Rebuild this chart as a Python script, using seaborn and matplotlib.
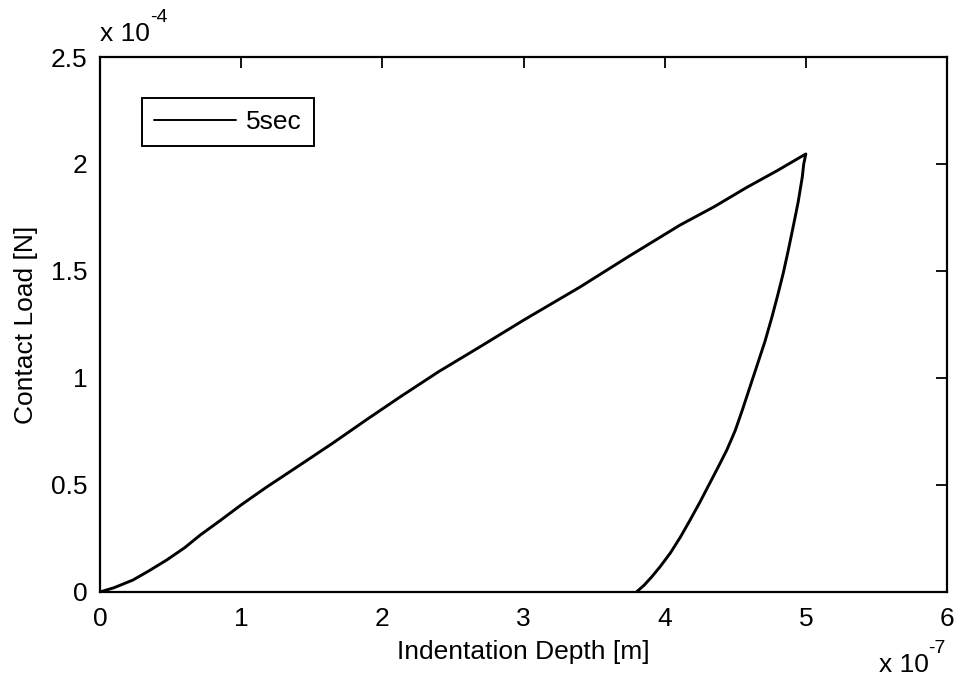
import matplotlib
matplotlib.use("Agg")
import matplotlib.pyplot as plt
from matplotlib.ticker import FuncFormatter, MultipleLocator
import pandas as pd
import seaborn as sns

# Indentation test, 5 s hold: loading branch then unloading branch
load_depth_m = [0.0, 0.1e-7, 0.234e-7, 0.35e-7, 0.474e-7, 0.6e-7, 0.71e-7, 0.85e-7,
                1.0e-7, 1.18e-7, 1.416e-7, 1.65e-7, 1.89e-7, 2.125e-7, 2.4e-7, 2.69e-7,
                3.0e-7, 3.4e-7, 3.75e-7, 4.11e-7, 4.35e-7, 4.58e-7, 4.8e-7, 5.0e-7]
load_force_n = [0.0, 0.02e-4, 0.056e-4, 0.10e-4, 0.15e-4, 0.207e-4, 0.266e-4, 0.333e-4,
                0.407e-4, 0.49e-4, 0.593e-4, 0.696e-4, 0.806e-4, 0.911e-4, 1.03e-4, 1.145e-4,
                1.27e-4, 1.425e-4, 1.57e-4, 1.715e-4, 1.80e-4, 1.89e-4, 1.97e-4, 2.047e-4]
unload_depth_m = [4.985e-7, 4.975e-7, 4.945e-7, 4.91e-7, 4.875e-7, 4.84e-7, 4.80e-7,
                  4.76e-7, 4.71e-7, 4.65e-7, 4.60e-7, 4.55e-7, 4.50e-7, 4.44e-7, 4.38e-7,
                  4.32e-7, 4.25e-7, 4.18e-7, 4.11e-7, 4.04e-7, 3.97e-7, 3.91e-7, 3.855e-7,
                  3.80e-7]
unload_force_n = [2.00e-4, 1.94e-4, 1.82e-4, 1.706e-4, 1.595e-4, 1.49e-4, 1.385e-4,
                  1.285e-4, 1.17e-4, 1.05e-4, 0.95e-4, 0.85e-4, 0.755e-4, 0.663e-4, 0.585e-4,
                  0.509e-4, 0.42e-4, 0.336e-4, 0.255e-4, 0.182e-4, 0.12e-4, 0.072e-4, 0.032e-4,
                  0.0]
series_label = "5sec"

x_scale = 1e-7
y_scale = 1e-4

df = pd.DataFrame({
    "depth": load_depth_m + unload_depth_m,
    "force": load_force_n + unload_force_n,
    "run": series_label,
})

sns.set_style("white")
plt.rcParams["font.family"] = ["Liberation Sans", "DejaVu Sans"]
plt.rcParams["text.color"] = "black"
plt.rcParams["axes.unicode_minus"] = False

fig = plt.figure(figsize=(9.56, 6.77), dpi=100)
ax = fig.add_axes([0.1046, 0.1256, 0.886, 0.7902])

sns.lineplot(data=df, x="depth", y="force", hue="run", palette=["black"],
             sort=False, estimator=None, linewidth=2.1, ax=ax)

ax.set_xlim(0, 6 * x_scale)
ax.set_ylim(0, 2.5 * y_scale)
ax.xaxis.set_major_locator(MultipleLocator(1 * x_scale))
ax.yaxis.set_major_locator(MultipleLocator(0.5 * y_scale))
ax.xaxis.set_major_formatter(FuncFormatter(lambda v, p: f"{v / x_scale:g}"))
ax.yaxis.set_major_formatter(FuncFormatter(lambda v, p: f"{v / y_scale:g}"))

fs = 19
ax.tick_params(axis="both", which="major", direction="in", length=8, width=1.3,
               top=True, right=True, labelsize=fs, color="black", labelcolor="black")
ax.tick_params(axis="x", pad=11)
ax.tick_params(axis="y", pad=9)
for s in ax.spines.values():
    s.set_visible(True)
    s.set_color("black")
    s.set_linewidth(1.6)

ax.set_xlabel("Indentation Depth [m]", fontsize=fs, labelpad=6, color="black")
ax.set_ylabel("Contact Load [N]", fontsize=fs, labelpad=9, color="black")

# MATLAB-style exponent annotations
t_y = ax.text(0.0, 1.02, "x 10", transform=ax.transAxes, fontsize=fs,
              ha="left", va="bottom", color="black")
ax.annotate("-4", xy=(1.0, 0.85), xycoords=t_y, fontsize=14, ha="left", va="bottom",
            color="black")
t_x = ax.text(0.978, -0.115, "x 10", transform=ax.transAxes, fontsize=fs,
              ha="right", va="top", color="black")
ax.annotate("-7", xy=(1.0, 0.85), xycoords=t_x, fontsize=14, ha="left", va="bottom",
            color="black")

leg = ax.legend(loc="upper left", bbox_to_anchor=(0.0496, 0.923), fontsize=fs,
                frameon=True, fancybox=False, framealpha=1, edgecolor="black",
                handlelength=3.1, handletextpad=0.4, borderpad=0.45, borderaxespad=0)
leg.get_frame().set_linewidth(1.4)
for line in leg.get_lines():
    line.set_linewidth(1.4)
for txt in leg.get_texts():
    txt.set_color("black")

fig.savefig("out.png", dpi=100, facecolor="white")
